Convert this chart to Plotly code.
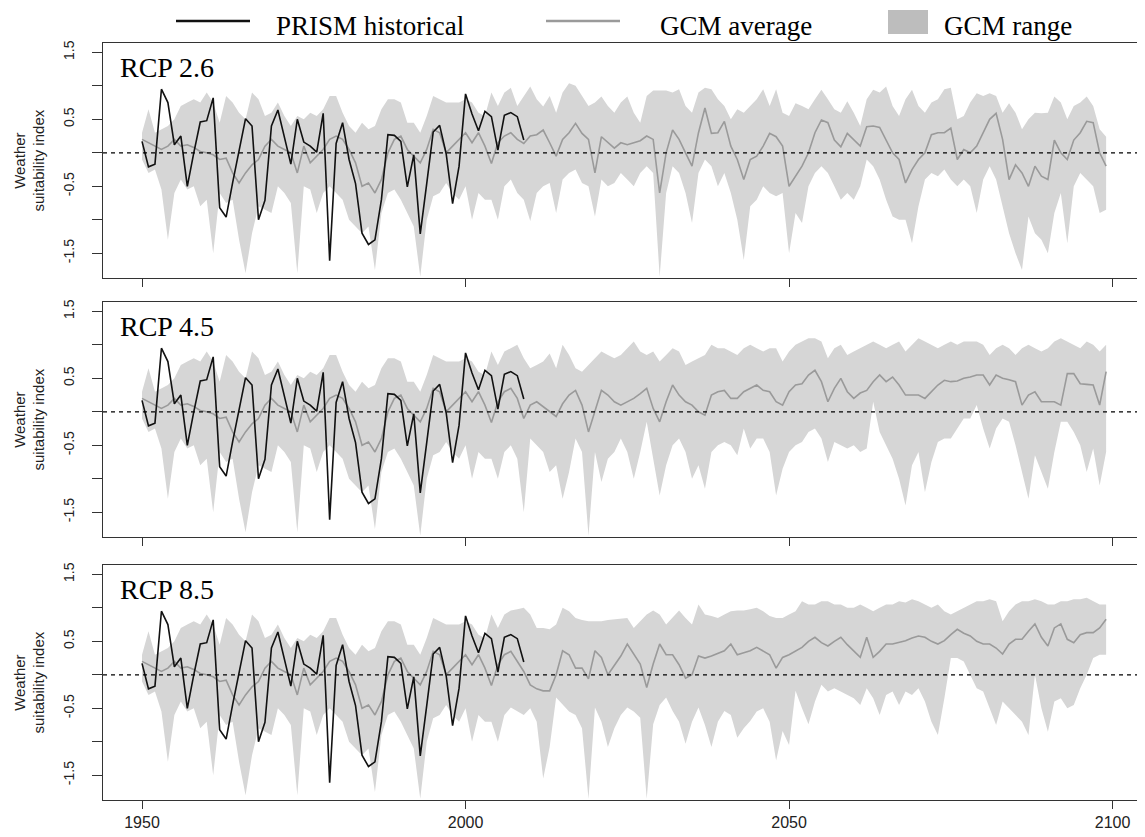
import plotly.graph_objects as go
from plotly.subplots import make_subplots

# ---------------- data ----------------
years = list(range(1950, 2100))
prism_years = list(range(1950, 2010))

prism = [0.17, -0.21, -0.17, 0.95, 0.75, 0.12, 0.25, -0.50, 0.00, 0.46,
         0.48, 0.82, -0.82, -0.96, -0.45, 0.05, 0.51, 0.40, -1.00, -0.71,
         0.40, 0.64, 0.25, -0.17, 0.50, 0.16, 0.10, 0.01, 0.59, -1.61,
         0.14, 0.45, -0.10, -0.46, -1.20, -1.37, -1.30, -0.70, 0.27, 0.26,
         0.17, -0.51, -0.03, -1.21, -0.46, 0.31, 0.41, -0.01, -0.76, -0.20,
         0.88, 0.58, 0.33, 0.62, 0.54, 0.04, 0.56, 0.60, 0.54, 0.19]

# GCM historical runs 1950-2005 (shared by all scenarios)
hist_mean = [0.20, 0.15, 0.10, 0.05, 0.10, 0.20, 0.10, 0.12, 0.08, 0.02,
             0.00, -0.03, -0.10, -0.08, -0.30, -0.45, -0.30, -0.18, -0.10, 0.10,
             0.20, 0.10, 0.05, 0.00, -0.30, 0.10, -0.15, -0.05, 0.05, 0.20,
             0.25, 0.20, 0.05, -0.15, -0.50, -0.45, -0.60, -0.40, 0.00, 0.20,
             0.25, 0.05, -0.05, -0.15, 0.05, 0.35, 0.30, 0.00, 0.10, 0.20,
             0.30, 0.15, 0.30, 0.10, -0.16, 0.15]
hist_upper = [0.30, 0.65, 0.30, 0.35, 0.40, 0.50, 0.70, 0.75, 0.80, 0.75,
              0.90, 0.75, 0.45, 0.85, 0.75, 0.60, 0.50, 0.90, 0.80, 0.55,
              0.60, 0.75, 0.55, 0.40, 0.55, 0.50, 0.60, 0.55, 0.65, 0.85,
              0.85, 0.60, 0.40, 0.30, 0.45, 0.35, 0.40, 0.65, 0.80, 0.80,
              0.75, 0.45, 0.45, 0.30, 0.55, 0.85, 0.80, 0.75, 0.75, 0.75,
              0.80, 0.75, 0.60, 0.55, 0.90, 0.70]
hist_lower = [-0.10, -0.30, -0.25, -0.55, -1.30, -0.60, -0.40, -0.55, -0.50, -0.80,
              -0.70, -1.50, -0.60, -0.75, -0.70, -1.30, -1.80, -1.20, -0.80, -0.85,
              -0.90, -0.50, -0.60, -0.75, -1.80, -0.50, -0.55, -0.90, -0.60, -0.50,
              -0.60, -0.70, -1.00, -1.10, -1.20, -1.10, -1.75, -0.90, -0.60, -0.55,
              -0.70, -0.90, -1.10, -1.85, -1.00, -0.65, -0.60, -0.45, -0.60, -0.70,
              -0.50, -1.00, -0.60, -0.70, -0.70, -1.00]

# Future projections 2006-2099
rcp26_mean = [0.25, 0.30, 0.20, 0.14, 0.25, 0.27, 0.34, 0.15, -0.05, 0.20,
              0.30, 0.44, 0.29, 0.20, -0.30, 0.24, 0.15, 0.07, 0.15, 0.12,
              0.15, 0.18, 0.25, 0.20, -0.60, 0.00, 0.34, 0.20, 0.00, -0.20,
              0.30, 0.67, 0.29, 0.30, 0.47, 0.10, -0.10, -0.40, -0.10, -0.05,
              0.10, 0.29, 0.24, 0.10, -0.50, -0.35, -0.20, 0.00, 0.30, 0.49,
              0.45, 0.19, 0.09, 0.29, 0.20, 0.10, 0.39, 0.40, 0.38, 0.20,
              0.00, -0.10, -0.45, -0.25, -0.10, 0.00, 0.27, 0.30, 0.30, 0.37,
              -0.10, 0.05, 0.00, 0.10, 0.30, 0.50, 0.59, 0.20, -0.40, -0.18,
              -0.30, -0.50, -0.20, -0.35, -0.40, 0.19, 0.00, -0.10, 0.19, 0.30,
              0.47, 0.45, 0.00, -0.20]
rcp26_upper = [0.90, 0.97, 0.70, 0.85, 0.99, 0.80, 0.69, 0.85, 0.60, 0.90,
               1.04, 1.00, 0.85, 0.70, 0.75, 0.84, 0.70, 0.60, 0.75, 0.84,
               0.60, 0.45, 0.85, 0.93, 0.93, 0.93, 0.90, 0.95, 0.70, 0.60,
               0.90, 0.97, 0.95, 0.80, 0.70, 0.50, 0.65, 0.60, 0.70, 0.80,
               0.95, 0.70, 0.95, 0.60, 0.55, 0.74, 0.70, 0.65, 0.80, 0.94,
               0.80, 0.65, 0.60, 0.77, 0.60, 0.40, 0.80, 0.94, 0.90, 0.99,
               0.70, 0.55, 0.80, 0.94, 0.70, 0.60, 0.75, 0.80, 0.95, 0.97,
               0.50, 0.55, 0.75, 0.89, 0.85, 0.89, 0.85, 0.60, 0.74, 0.60,
               0.35, 0.50, 0.60, 0.59, 0.60, 0.84, 0.75, 0.50, 0.70, 0.75,
               0.84, 0.70, 0.35, 0.24]
rcp26_lower = [-0.50, -0.40, -0.60, -0.70, -1.02, -0.60, -0.50, -0.45, -0.90, -0.40,
               -0.30, -0.25, -0.45, -0.50, -0.95, -0.40, -0.50, -0.45, -0.30, -0.40,
               -0.50, -0.30, -0.20, -0.30, -1.85, -0.60, -0.20, -0.30, -0.60, -1.05,
               -0.30, -0.10, -0.20, -0.50, -0.30, -0.60, -1.00, -1.60, -0.80, -0.70,
               -0.50, -0.60, -0.65, -0.60, -1.50, -0.90, -1.05, -0.50, -0.30, -0.20,
               -0.30, -0.50, -0.70, -0.60, -0.70, -0.50, -0.10, -0.20, -0.40, -0.70,
               -0.95, -1.00, -1.00, -1.35, -0.80, -0.40, -0.30, -0.35, -0.25, -0.40,
               -0.50, -0.40, -0.50, -0.90, -0.40, -0.20, -0.40, -0.80, -1.20, -1.50,
               -1.75, -0.95, -1.20, -1.30, -1.50, -0.90, -0.60, -1.35, -0.50, -0.30,
               -0.40, -0.50, -0.90, -0.85]

rcp45_mean = [0.30, 0.35, 0.20, -0.10, 0.10, 0.15, 0.08, 0.00, -0.07, 0.12,
              0.25, 0.32, 0.10, -0.30, 0.00, 0.32, 0.25, 0.15, 0.10, 0.15,
              0.20, 0.27, 0.35, 0.05, -0.15, 0.15, 0.40, 0.25, 0.15, 0.10,
              0.00, -0.05, 0.25, 0.30, 0.32, 0.20, 0.20, 0.30, 0.35, 0.40,
              0.32, 0.30, 0.15, 0.10, 0.30, 0.40, 0.42, 0.55, 0.62, 0.45,
              0.15, 0.35, 0.50, 0.30, 0.20, 0.28, 0.32, 0.45, 0.55, 0.45,
              0.52, 0.40, 0.25, 0.25, 0.25, 0.20, 0.30, 0.40, 0.47, 0.45,
              0.46, 0.50, 0.52, 0.55, 0.55, 0.40, 0.55, 0.50, 0.48, 0.45,
              0.10, 0.25, 0.30, 0.15, 0.15, 0.15, 0.10, 0.57, 0.57, 0.42,
              0.41, 0.40, 0.10, 0.60]
rcp45_upper = [0.90, 0.95, 1.00, 0.80, 0.65, 0.70, 0.75, 0.87, 0.65, 1.00,
               0.85, 0.65, 0.60, 0.70, 0.80, 0.90, 0.85, 0.80, 0.85, 0.95,
               1.05, 0.90, 0.85, 0.90, 0.75, 0.85, 0.95, 0.90, 0.70, 0.75,
               0.80, 0.85, 1.00, 0.95, 0.95, 0.90, 0.85, 0.95, 1.00, 0.95,
               0.90, 0.95, 0.95, 0.75, 0.90, 1.00, 1.05, 1.10, 1.10, 1.05,
               0.80, 0.95, 1.00, 0.85, 0.90, 0.95, 1.00, 1.05, 1.00, 0.95,
               1.00, 1.05, 0.90, 1.00, 1.10, 1.05, 1.00, 0.95, 1.00, 1.05,
               1.00, 1.05, 1.05, 1.05, 1.00, 0.85, 0.95, 1.00, 0.95, 0.85,
               0.95, 1.00, 0.95, 0.90, 0.95, 1.05, 1.10, 1.05, 1.00, 0.95,
               1.05, 1.00, 0.90, 1.00]
rcp45_lower = [-0.60, -0.50, -0.70, -1.50, -0.40, -0.50, -0.60, -0.90, -0.80, -1.30,
               -0.90, -0.40, -0.60, -1.85, -0.60, -1.05, -0.70, -0.60, -0.40, -0.60,
               -1.00, -0.60, -0.15, -0.70, -1.25, -0.80, -0.50, -0.40, -0.60, -1.00,
               -0.80, -1.15, -0.60, -0.50, -0.45, -0.50, -0.65, -0.25, -0.55, -0.40,
               -0.40, -0.60, -1.25, -0.85, -0.60, -0.50, -0.45, -0.30, -0.25, -0.40,
               -0.75, -0.45, -0.50, -0.55, -0.50, -0.60, -0.55, 0.15, -0.30, -0.50,
               -0.70, -1.00, -1.40, -0.80, -0.60, -1.20, -0.75, -0.45, -0.40, -0.40,
               -0.25, -0.10, -0.10, 0.10, -0.25, -0.55, -0.25, -0.10, -0.15, -0.50,
               -0.90, -1.30, -0.65, -0.90, -1.15, -0.60, -0.15, -0.15, -0.30, -0.50,
               -0.90, -0.55, -1.10, -0.60]

rcp85_mean = [0.30, 0.35, 0.20, 0.05, -0.15, -0.21, -0.24, -0.24, 0.00, 0.36,
              0.30, 0.10, 0.10, -0.06, 0.36, 0.26, 0.00, 0.15, 0.28, 0.46,
              0.30, 0.16, -0.19, 0.16, 0.46, 0.30, 0.30, 0.15, -0.05, 0.00,
              0.28, 0.25, 0.28, 0.32, 0.36, 0.46, 0.30, 0.33, 0.36, 0.41,
              0.35, 0.30, 0.10, 0.26, 0.30, 0.35, 0.41, 0.50, 0.56, 0.48,
              0.43, 0.50, 0.56, 0.45, 0.35, 0.26, 0.56, 0.26, 0.35, 0.46,
              0.46, 0.48, 0.51, 0.55, 0.58, 0.56, 0.50, 0.46, 0.51, 0.60,
              0.68, 0.62, 0.58, 0.50, 0.46, 0.46, 0.40, 0.31, 0.46, 0.53,
              0.53, 0.65, 0.76, 0.56, 0.43, 0.70, 0.76, 0.53, 0.48, 0.60,
              0.63, 0.63, 0.70, 0.83]
rcp85_upper = [0.90, 0.96, 0.98, 1.00, 0.90, 0.70, 0.70, 0.68, 0.75, 1.00,
               0.95, 0.85, 0.82, 0.80, 0.80, 0.80, 0.82, 0.83, 0.84, 0.85,
               0.70, 0.80, 0.90, 0.96, 0.90, 0.75, 0.85, 0.96, 0.85, 0.75,
               1.05, 0.90, 0.88, 0.85, 0.90, 0.95, 0.96, 0.96, 0.98, 1.00,
               0.95, 0.88, 0.85, 0.85, 0.90, 0.95, 1.10, 1.05, 1.05, 1.10,
               1.10, 1.05, 1.05, 1.00, 1.00, 1.05, 1.00, 0.95, 1.00, 1.05,
               1.05, 1.10, 1.08, 1.13, 1.10, 1.05, 1.00, 1.05, 0.95, 0.90,
               0.95, 1.00, 1.05, 1.10, 1.10, 1.13, 1.10, 0.80, 0.95, 1.05,
               1.10, 1.10, 1.13, 1.10, 1.05, 1.05, 1.10, 1.10, 1.13, 1.13,
               1.15, 1.10, 1.05, 1.05]
rcp85_lower = [-0.60, -0.49, -0.55, -0.60, -0.50, -0.70, -1.55, -1.08, -0.34, -0.45,
               -0.55, -0.60, -0.80, -1.85, -0.49, -0.70, -1.08, -0.80, -0.60, -0.49,
               -0.55, -0.64, -1.85, -0.74, -0.45, -0.34, -0.54, -0.70, -1.03, -0.70,
               -0.49, -0.75, -1.08, -0.70, -0.54, -0.60, -0.94, -0.80, -0.69, -0.55,
               -0.50, -0.70, -1.28, -0.84, -1.05, -0.24, -0.50, -0.74, -0.40, -0.15,
               -0.25, -0.20, -0.25, -0.30, -0.35, -0.45, -0.20, -0.35, -0.60, -0.30,
               -0.25, -0.45, -0.25, -0.30, -0.20, -0.40, -0.70, -0.90, -0.35, 0.25,
               0.25, 0.20, 0.00, -0.20, -0.25, -0.50, -0.75, -0.40, -0.50, -0.60,
               -0.70, -0.90, 0.00, -0.50, -0.85, -0.40, -0.35, -0.50, -0.45, -0.20,
               0.00, 0.25, 0.30, 0.30]

scenario_labels = ["RCP 2.6", "RCP 4.5", "RCP 8.5"]
x_ticks = [1950, 2000, 2050, 2100]
y_ticks = [-1.5, -1.0, -0.5, 0.0, 0.5, 1.0, 1.5]
y_ticktext = ["-1.5", "", "-0.5", "", "0.5", "", "1.5"]
legend_labels = ["PRISM historical", "GCM average", "GCM range"]

scenarios = [
    (rcp26_mean, rcp26_upper, rcp26_lower),
    (rcp45_mean, rcp45_upper, rcp45_lower),
    (rcp85_mean, rcp85_upper, rcp85_lower),
]

# ---------------- styling ----------------
BAND = "#d6d6d6"
MEAN = "#9a9a9a"
OBS = "#111111"
SERIF = "Liberation Serif"
SANS = "Liberation Sans, Arial, sans-serif"

# the page body adds an 8px offset; target pixel positions are given in
# window coordinates and converted here
OFF = 8
WIN_W, WIN_H = 1145, 837
W, H = WIN_W - OFF, WIN_H - OFF
PL, PR, PT, PB = 103, 1143, 43, 800      # plot area in window pixels
ML, MR = PL - OFF, WIN_W - PR
MT, MB = PT - OFF, WIN_H - PB
PW = PR - PL
PH = PB - PT


def px_x(p):
    return (p - PL) / PW


def px_y(p):
    return (PB - p) / PH


panel_px = [(43, 278), (302, 537), (565, 800)]

fig = make_subplots(rows=3, cols=1)

for i, (mean_f, up_f, lo_f) in enumerate(scenarios):
    r = i + 1
    mean = hist_mean + mean_f
    up = hist_upper + up_f
    lo = hist_lower + lo_f
    fig.add_trace(go.Scatter(x=years + years[::-1], y=up + lo[::-1],
                             fill="toself", fillcolor=BAND, mode="lines",
                             line=dict(width=0, color=BAND), hoverinfo="skip",
                             showlegend=False), row=r, col=1)
    fig.add_trace(go.Scatter(x=years, y=mean, mode="lines",
                             line=dict(color=MEAN, width=1.6),
                             showlegend=False), row=r, col=1)
    fig.add_trace(go.Scatter(x=prism_years, y=prism, mode="lines",
                             line=dict(color=OBS, width=1.6),
                             showlegend=False), row=r, col=1)
    fig.add_hline(y=0, line=dict(color="black", width=1.3, dash="4px,4px"),
                  layer="above", row=r, col=1)

    top, bot = panel_px[i]
    ydom = [px_y(bot), px_y(top)]
    xname = "xaxis" if r == 1 else f"xaxis{r}"
    yname = "yaxis" if r == 1 else f"yaxis{r}"
    fig.layout[xname].update(
        domain=[0, 1], range=[1943.97, 2104.7], tickmode="array",
        tickvals=x_ticks, ticks="outside", ticklen=8, tickwidth=1,
        tickcolor="#333", showticklabels=(r == 3), showline=True,
        mirror=True, linecolor="#333", linewidth=1.2, showgrid=False,
        zeroline=False, tickfont=dict(family=SANS, size=16, color="#222"))
    fig.layout[yname].update(
        domain=ydom, range=[-1.87, 1.64], tickmode="array",
        tickvals=y_ticks, ticktext=y_ticktext, tickangle=-90,
        ticks="outside", ticklen=10, tickwidth=1, tickcolor="#333",
        ticklabelstandoff=12,
        showline=True, mirror=True, linecolor="#333", linewidth=1.2,
        showgrid=False, zeroline=False,
        tickfont=dict(family=SANS, size=14, color="#222"))

    # panel label
    fig.add_annotation(text=scenario_labels[i], xref="paper", yref="paper",
                       x=px_x(118), y=px_y(top + 24), xanchor="left",
                       yanchor="middle", showarrow=False,
                       font=dict(family=SERIF, size=28, color="black"))
    # y axis title
    fig.add_annotation(text="Weather<br>suitability index", xref="paper",
                       yref="paper", x=px_x(29), y=px_y((top + bot) / 2),
                       xanchor="center", yanchor="middle", textangle=-90,
                       showarrow=False,
                       font=dict(family=SANS, size=15, color="#222"))

# ---------------- legend (drawn at top) ----------------
ly = px_y(21)
fig.add_shape(type="line", xref="paper", yref="paper", x0=px_x(176), x1=px_x(250),
              y0=ly, y1=ly, line=dict(color=OBS, width=2.5))
fig.add_shape(type="line", xref="paper", yref="paper", x0=px_x(546), x1=px_x(620),
              y0=ly, y1=ly, line=dict(color=MEAN, width=2.5))
fig.add_shape(type="rect", xref="paper", yref="paper", x0=px_x(888), x1=px_x(928),
              y0=px_y(34), y1=px_y(10), line=dict(width=0), fillcolor="#bdbdbd")
for lab, xp in zip(legend_labels, [274, 658, 942]):
    fig.add_annotation(text=lab, xref="paper", yref="paper", x=px_x(xp),
                       y=px_y(OFF + 1), xanchor="left", yanchor="top",
                       showarrow=False,
                       font=dict(family=SERIF, size=27, color="black"))

fig.update_layout(width=W, height=H, margin=dict(l=ML, r=MR, t=MT, b=MB),
                  plot_bgcolor="white", paper_bgcolor="white", showlegend=False)

fig.write_html("out.html")
